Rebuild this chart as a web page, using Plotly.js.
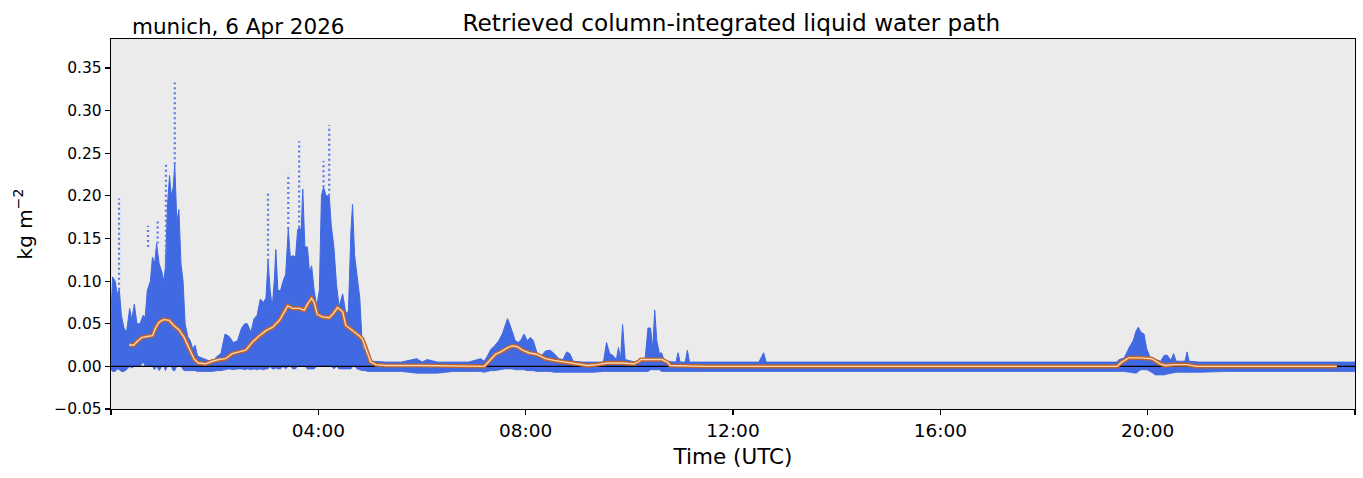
<!DOCTYPE html>
<html>
<head>
<meta charset="utf-8">
<script src="https://cdn.plot.ly/plotly-3.0.1.min.js"></script>
<style>html,body{margin:0;padding:0;background:#fff;}#chart{width:1363px;height:478px;}</style>
</head>
<body>
<div id="chart"></div>
<script>
// Retrieved LWP (kg m^-2): observed envelope of the 1-s retrievals, hours UTC
const timeHours = [0.00,0.03,0.08,0.12,0.16,0.20,0.25,0.30,0.36,0.40,0.45,0.50,0.56,0.62,0.66,0.70,0.76,0.80,0.84,0.88,0.93,0.98,1.02,1.05,1.09,1.13,1.16,1.20,1.23,1.27,1.31,1.35,1.39,1.43,1.48,1.53,1.58,1.62,1.67,1.75,1.85,1.95,2.05,2.12,2.20,2.28,2.36,2.44,2.52,2.58,2.63,2.70,2.76,2.82,2.88,2.94,2.99,3.03,3.07,3.11,3.15,3.18,3.22,3.27,3.32,3.37,3.42,3.46,3.51,3.56,3.60,3.63,3.67,3.70,3.74,3.79,3.83,3.87,3.92,3.97,4.02,4.06,4.10,4.15,4.21,4.25,4.30,4.35,4.40,4.47,4.53,4.58,4.63,4.66,4.70,4.75,4.80,4.85,4.90,4.96,5.05,5.3,5.6,5.9,6.0,6.1,6.3,6.6,6.9,7.13,7.2,7.26,7.33,7.40,7.48,7.55,7.60,7.65,7.69,7.74,7.80,7.86,7.92,7.97,8.03,8.09,8.15,8.22,8.30,8.38,8.47,8.55,8.64,8.72,8.79,8.85,8.92,9.1,9.3,9.5,9.56,9.62,9.68,9.75,9.79,9.83,9.87,9.92,10.1,10.3,10.36,10.41,10.45,10.49,10.53,10.58,10.62,10.68,10.9,10.94,10.98,11.08,11.12,11.16,11.5,12.0,12.5,12.59,12.64,13.0,13.5,14.0,14.5,15.0,15.5,16.0,16.5,17.0,17.5,18.0,18.5,19.0,19.4,19.45,19.55,19.65,19.72,19.78,19.82,19.87,19.93,19.98,20.05,20.15,20.25,20.32,20.38,20.45,20.5,20.55,20.72,20.76,20.8,21.0,21.5,22.0,22.5,23.0,23.5,24.0];
const lwpUpper = [0.060,0.105,0.100,0.085,0.090,0.060,0.045,0.040,0.068,0.055,0.073,0.050,0.050,0.060,0.058,0.089,0.100,0.128,0.120,0.144,0.120,0.111,0.100,0.117,0.190,0.224,0.200,0.210,0.237,0.170,0.184,0.120,0.100,0.050,0.035,0.030,0.020,0.025,0.012,0.010,0.008,0.005,0.012,0.015,0.038,0.035,0.028,0.030,0.045,0.050,0.050,0.040,0.056,0.060,0.079,0.075,0.080,0.124,0.090,0.069,0.100,0.137,0.089,0.089,0.100,0.108,0.161,0.128,0.130,0.128,0.160,0.163,0.160,0.208,0.140,0.140,0.110,0.118,0.089,0.070,0.090,0.200,0.210,0.200,0.200,0.165,0.140,0.097,0.070,0.085,0.062,0.065,0.160,0.190,0.130,0.105,0.080,0.022,0.018,0.008,0.006,0.005,0.005,0.009,0.005,0.008,0.005,0.005,0.005,0.009,0.006,0.012,0.020,0.024,0.030,0.038,0.048,0.056,0.050,0.042,0.030,0.028,0.032,0.038,0.030,0.034,0.030,0.015,0.012,0.018,0.019,0.015,0.009,0.008,0.017,0.015,0.006,0.005,0.005,0.005,0.028,0.015,0.013,0.008,0.022,0.008,0.049,0.008,0.005,0.006,0.045,0.045,0.020,0.066,0.030,0.015,0.016,0.006,0.005,0.016,0.005,0.005,0.019,0.005,0.005,0.005,0.005,0.016,0.005,0.005,0.005,0.005,0.005,0.005,0.005,0.005,0.005,0.005,0.005,0.005,0.005,0.005,0.005,0.008,0.010,0.023,0.030,0.042,0.046,0.040,0.038,0.021,0.010,0.008,0.006,0.013,0.013,0.007,0.015,0.006,0.006,0.017,0.006,0.005,0.005,0.005,0.005,0.005,0.005,0.005];
const lwpLower = [-0.004,-0.006,-0.006,-0.003,-0.004,-0.006,-0.006,-0.004,0.000,-0.002,0.000,0.000,0.000,0.005,0.000,0.000,0.000,0.000,-0.004,0.000,-0.005,0.000,0.000,-0.005,0.000,0.000,0.000,-0.005,-0.005,0.000,0.000,0.000,-0.004,-0.005,-0.005,-0.005,-0.005,-0.005,-0.006,-0.006,-0.006,-0.006,-0.005,-0.005,-0.004,-0.003,-0.004,-0.003,-0.003,-0.004,-0.003,-0.004,-0.003,-0.004,-0.003,-0.004,-0.003,-0.003,0.000,-0.003,-0.003,-0.002,-0.003,-0.003,0.000,-0.003,0.000,0.000,-0.003,-0.003,0.000,0.000,0.000,0.000,0.000,-0.003,-0.003,-0.003,-0.003,0.000,0.000,0.000,0.000,0.000,0.000,0.000,-0.003,0.000,-0.003,-0.003,-0.003,-0.003,-0.003,0.000,0.000,-0.003,-0.004,-0.005,-0.005,-0.006,-0.006,-0.006,-0.006,-0.008,-0.008,-0.008,-0.008,-0.006,-0.006,-0.006,-0.007,-0.006,-0.005,-0.005,-0.004,-0.004,-0.003,-0.003,-0.003,-0.003,-0.004,-0.004,-0.004,-0.004,-0.005,-0.005,-0.005,-0.006,-0.006,-0.006,-0.006,-0.007,-0.007,-0.007,-0.007,-0.007,-0.007,-0.007,-0.007,-0.006,-0.006,-0.006,-0.006,-0.006,-0.006,-0.006,-0.006,-0.006,-0.006,-0.006,-0.006,-0.004,-0.004,-0.004,-0.004,-0.004,-0.006,-0.006,-0.006,-0.006,-0.006,-0.006,-0.006,-0.006,-0.006,-0.006,-0.006,-0.006,-0.006,-0.006,-0.006,-0.006,-0.006,-0.006,-0.006,-0.006,-0.006,-0.006,-0.006,-0.006,-0.006,-0.006,-0.006,-0.006,-0.006,-0.007,-0.008,-0.008,-0.006,-0.004,-0.004,-0.004,-0.006,-0.010,-0.010,-0.010,-0.009,-0.008,-0.008,-0.007,-0.007,-0.007,-0.007,-0.007,-0.006,-0.006,-0.006,-0.006,-0.006,-0.006,-0.006];

// isolated high retrievals above the dense cloud columns
const sparseTime = [0.155,0.715,0.90,1.06,1.23,3.03,3.42,3.63,4.10,4.21];
const sparseFrom = [0.090,0.140,0.144,0.117,0.237,0.124,0.161,0.163,0.210,0.200];
const sparseTo   = [0.197,0.165,0.172,0.238,0.333,0.205,0.226,0.264,0.241,0.283];

// running mean
const meanTime = [0.35,0.44,0.52,0.60,0.70,0.80,0.86,0.93,1.02,1.12,1.21,1.31,1.41,1.50,1.60,1.68,1.83,1.95,2.08,2.21,2.34,2.47,2.60,2.73,2.86,2.99,3.12,3.25,3.34,3.41,3.50,3.63,3.73,3.79,3.87,3.92,3.98,4.08,4.21,4.29,4.37,4.47,4.53,4.66,4.79,4.85,4.92,5.01,5.11,5.30,6.00,6.94,7.20,7.23,7.33,7.42,7.52,7.65,7.74,7.84,7.94,8.06,8.22,8.38,8.55,8.74,9.00,9.19,9.38,9.58,9.83,10.09,10.19,10.22,10.41,10.63,10.73,10.79,11.5,19.41,19.50,19.63,19.86,20.08,20.24,20.34,20.50,20.76,20.95,23.65];
const meanLwp  = [0.025,0.025,0.030,0.034,0.035,0.036,0.045,0.052,0.055,0.054,0.048,0.043,0.034,0.022,0.009,0.004,0.003,0.006,0.008,0.009,0.015,0.017,0.019,0.0285,0.036,0.042,0.046,0.054,0.064,0.071,0.068,0.068,0.066,0.073,0.080,0.075,0.061,0.058,0.057,0.062,0.069,0.064,0.048,0.042,0.036,0.032,0.021,0.005,0.002,0.001,0.001,0.000,0.000,0.002,0.009,0.0143,0.017,0.022,0.024,0.023,0.019,0.016,0.014,0.009,0.007,0.005,0.003,0.001,0.002,0.004,0.004,0.003,0.006,0.008,0.008,0.008,0.005,0.001,0.000,0.000,0.005,0.010,0.010,0.009,0.003,0.001,0.002,0.002,0.000,0.000];

const dayRange = [0, 24];
const baselineLwp = 0;
const xTickVals = [4, 8, 12, 16, 20];
const xTickText = ['04:00', '08:00', '12:00', '16:00', '20:00'];
const xEdgeTicks = [0, 24];
const yTickVals = [-0.05, 0, 0.05, 0.10, 0.15, 0.20, 0.25, 0.30, 0.35];

const blue = '#4169e1';
const sx = [], sy = [];
sparseTime.forEach((t, i) => { sx.push(t, t, null); sy.push(sparseFrom[i], sparseTo[i], null); });

const traces = [
  {x: timeHours, y: lwpLower, mode: 'lines', line: {width: 0.8, color: blue}, hoverinfo: 'skip'},
  {x: timeHours, y: lwpUpper, mode: 'lines', fill: 'tonexty', fillcolor: blue, line: {width: 1, color: blue}, hoverinfo: 'skip'},
  {x: sx, y: sy, mode: 'lines', line: {width: 2.2, color: '#5878e4', dash: '2px,3px'}, connectgaps: false, hoverinfo: 'skip'},
  {x: dayRange, y: [baselineLwp, baselineLwp], mode: 'lines', line: {width: 1.3, color: '#000'}, hoverinfo: 'skip'},
  {x: meanTime, y: meanLwp, mode: 'lines', line: {width: 4.2, color: '#c0642a'}, hoverinfo: 'skip'},
  {x: meanTime, y: meanLwp, mode: 'lines', line: {width: 1.4, color: '#f7d6b4'}, hoverinfo: 'skip'}
];

const font = {family: 'DejaVu Sans, sans-serif', color: '#000'};
const layout = {
  width: 1363, height: 478,
  margin: {l: 111, r: 8, t: 39, b: 69, pad: 0},
  paper_bgcolor: '#ffffff', plot_bgcolor: '#ebebeb',
  showlegend: false,
  font: Object.assign({size: 15}, font),
  title: {text: 'Retrieved column-integrated liquid water path', x: 0.5366, xanchor: 'center', xref: 'container', y: 0.953, yref: 'container', yanchor: 'middle', font: Object.assign({size: 23.2}, font)},
  xaxis: {
    range: dayRange, tickmode: 'array', tickvals: xTickVals, ticktext: xTickText,
    ticks: 'outside', ticklen: 5, tickwidth: 1.2, tickcolor: '#000',
    minor: {tickmode: 'array', tickvals: xEdgeTicks, ticks: 'outside', ticklen: 5, tickwidth: 1.2, tickcolor: '#000', showgrid: false},
    showline: true, linecolor: '#000', linewidth: 1.2, mirror: true,
    showgrid: false, zeroline: false,
    tickfont: Object.assign({size: 18.5}, font),
    title: {text: 'Time (UTC)', standoff: 8, font: Object.assign({size: 21.5}, font)}
  },
  yaxis: {
    range: [-0.05, 0.384], tickvals: yTickVals, tickformat: '.2f',
    ticks: 'outside', ticklen: 5, tickwidth: 1.2, tickcolor: '#000',
    showline: true, linecolor: '#000', linewidth: 1.2, mirror: true,
    showgrid: false, zeroline: false,
    tickfont: Object.assign({size: 15.5}, font),
    title: {text: 'kg m<sup>−2</sup>', standoff: 16, font: Object.assign({size: 20}, font)}
  },
  annotations: [
    {text: 'munich, 6 Apr 2026', xref: 'paper', yref: 'paper', x: 0.0155, y: 1, xanchor: 'left', yanchor: 'bottom', yshift: -2, showarrow: false, font: Object.assign({size: 21.5}, font)}
  ]
};

Plotly.newPlot('chart', traces, layout, {staticPlot: true, displayModeBar: false});
</script>
</body>
</html>
